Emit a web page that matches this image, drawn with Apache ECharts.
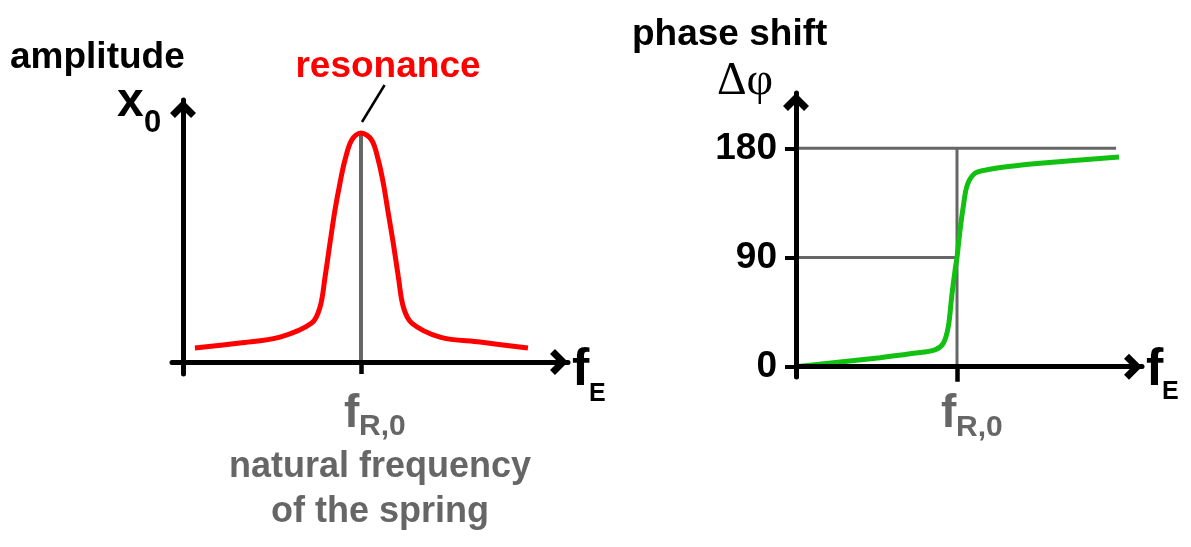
<!DOCTYPE html>
<html>
<head>
<meta charset="utf-8">
<script src="https://cdn.jsdelivr.net/npm/echarts@6/dist/echarts.min.js"></script>
<style>
html,body{margin:0;padding:0;background:#fff;}
#c{width:1191px;height:547px;}
</style>
</head>
<body>
<div id="c"></div>
<script>
// ---- data (frequency in units of f_R,0) ----
const ampX = [0.067, 0.32, 0.545, 0.723, 0.770, 0.798, 0.826, 0.854, 0.882, 0.910, 0.948, 1.0, 1.060, 1.097, 1.125, 1.153, 1.181, 1.210, 1.238, 1.285, 1.444, 1.669, 1.938];
const ampY = [0.061, 0.083, 0.109, 0.170, 0.240, 0.371, 0.520, 0.664, 0.782, 0.882, 0.969, 1.0, 0.969, 0.882, 0.782, 0.651, 0.520, 0.371, 0.240, 0.170, 0.109, 0.087, 0.061];
const phaseX = [0, 0.522, 0.729, 0.863, 0.915, 0.946, 0.967, 0.988, 1.0, 1.019, 1.039, 1.064, 1.112, 1.205, 1.350, 1.516, 2.006];
const phaseY = [0, 7.4, 11.0, 13.8, 19.3, 33.0, 57.7, 79.7, 90, 112.7, 131.9, 149.8, 159.4, 162.7, 165.4, 167.6, 172.8];
const resonanceX = 1.0;
const peakAmp = 1.0;
const phaseTicks = [0, 90, 180];
const phaseLineEnd = 1.988;

const SANS = '"Liberation Sans", Arial, sans-serif';
const SERIF = '"Liberation Serif", "Times New Roman", serif';
const GRAY = '#666666';

const chart = echarts.init(document.getElementById('c'));

const arrowPath = 'path://M13,0 L26,13 L21.05,17.95 L13,9.9 L4.95,17.95 L0,13 Z';
function axisLineCfg() {
  return {
    show: true, onZero: true,
    lineStyle: { color: '#000', width: 5 },
    symbol: ['none', arrowPath],
    symbolSize: [26, 18],
    symbolOffset: [0, -9]
  };
}

function txt(text, x, baseline, size, color, opts) {
  opts = opts || {};
  return {
    type: 'text', z: 50,
    style: {
      text: text,
      x: x,
      y: baseline - 0.25 * size,
      font: (opts.weight || 'bold') + ' ' + size + 'px ' + (opts.serif ? SERIF : SANS),
      fill: color,
      textAlign: opts.align || 'left',
      textVerticalAlign: 'middle'
    }
  };
}

const option = {
  backgroundColor: '#ffffff',
  animation: false,
  grid: [
    { left: 172, top: 100, width: 396, height: 274 },
    { left: 796, top: 93, width: 346, height: 284 }
  ],
  xAxis: [
    {
      type: 'value', gridIndex: 0, min: -0.0618, max: 2.163, z: 3,
      axisLine: axisLineCfg(),
      axisTick: { show: true, customValues: [resonanceX], length: 12, lineStyle: { color: '#000', width: 4.5 } },
      axisLabel: { show: false },
      splitLine: { show: false }
    },
    {
      type: 'value', gridIndex: 1, min: 0, max: 2.149, z: 3,
      axisLine: axisLineCfg(),
      axisTick: { show: true, customValues: [resonanceX], length: 15, lineStyle: { color: '#000', width: 4.5 } },
      axisLabel: { show: false },
      splitLine: { show: false }
    }
  ],
  yAxis: [
    {
      type: 'value', gridIndex: 0, min: -0.0524, max: 1.144, z: 3,
      axisLine: axisLineCfg(),
      axisTick: { show: false },
      axisLabel: { show: false },
      splitLine: { show: false }
    },
    {
      type: 'value', gridIndex: 1, min: -8.5, max: 225.6, z: 3,
      axisLine: axisLineCfg(),
      axisTick: { show: true, customValues: phaseTicks, length: 11, lineStyle: { color: '#000', width: 4 } },
      axisLabel: { show: true, customValues: phaseTicks, margin: 19, color: '#000', fontFamily: SANS, fontWeight: 'bold', fontSize: 37 },
      splitLine: { show: false }
    }
  ],
  series: [
    {
      name: 'fR-line-left', type: 'line', xAxisIndex: 0, yAxisIndex: 0, z: 1,
      symbol: 'none', silent: true,
      lineStyle: { color: GRAY, width: 4 },
      data: [[resonanceX, 0], [resonanceX, peakAmp]]
    },
    {
      name: 'amplitude', type: 'line', xAxisIndex: 0, yAxisIndex: 0, z: 2,
      symbol: 'none', smooth: 0.35, silent: true,
      lineStyle: { color: '#ff0000', width: 5 },
      data: ampX.map((x, i) => [x, ampY[i]])
    },
    {
      name: 'ref180', type: 'line', xAxisIndex: 1, yAxisIndex: 1, z: 1,
      symbol: 'none', silent: true,
      lineStyle: { color: GRAY, width: 3 },
      data: [[0, phaseTicks[2]], [phaseLineEnd, phaseTicks[2]]]
    },
    {
      name: 'ref90', type: 'line', xAxisIndex: 1, yAxisIndex: 1, z: 1,
      symbol: 'none', silent: true,
      lineStyle: { color: GRAY, width: 3 },
      data: [[0, phaseTicks[1]], [resonanceX, phaseTicks[1]]]
    },
    {
      name: 'refV', type: 'line', xAxisIndex: 1, yAxisIndex: 1, z: 1,
      symbol: 'none', silent: true,
      lineStyle: { color: GRAY, width: 3 },
      data: [[resonanceX, 0], [resonanceX, phaseTicks[2]]]
    },
    {
      name: 'phase', type: 'line', xAxisIndex: 1, yAxisIndex: 1, z: 2,
      symbol: 'none', smooth: 0.35, silent: true,
      lineStyle: { color: '#11c011', width: 5 },
      data: phaseX.map((x, i) => [x, phaseY[i]])
    }
  ],
  graphic: [
    txt('amplitude', 10, 67, 37, '#000'),
    txt('resonance', 388, 76, 37, '#ff0000', { align: 'center' }),
    { type: 'line', z: 50, shape: { x1: 384.6, y1: 85, x2: 362, y2: 122 }, style: { stroke: '#000', lineWidth: 2.5 } },
    txt('x', 117, 115, 48, '#000'),
    txt('0', 144, 131, 31, '#000'),
    txt('f', 572, 384, 52, '#000'),
    txt('E', 589, 400, 25, '#000'),
    txt('f', 344, 426, 46, GRAY),
    txt('R,0', 359, 434, 30, GRAY),
    txt('natural frequency', 380, 476, 36, GRAY, { align: 'center' }),
    txt('of the spring', 380, 521, 36, GRAY, { align: 'center' }),
    txt('phase shift', 632, 44, 37, '#000'),
    txt('\u0394\u03c6', 717, 93, 46, '#000', { serif: true, weight: 'normal' }),
    txt('f', 1146, 384, 52, '#000'),
    txt('E', 1162, 398, 25, '#000'),
    txt('f', 941, 426, 46, GRAY),
    txt('R,0', 956, 435, 30, GRAY)
  ]
};

chart.setOption(option);
</script>
</body>
</html>
